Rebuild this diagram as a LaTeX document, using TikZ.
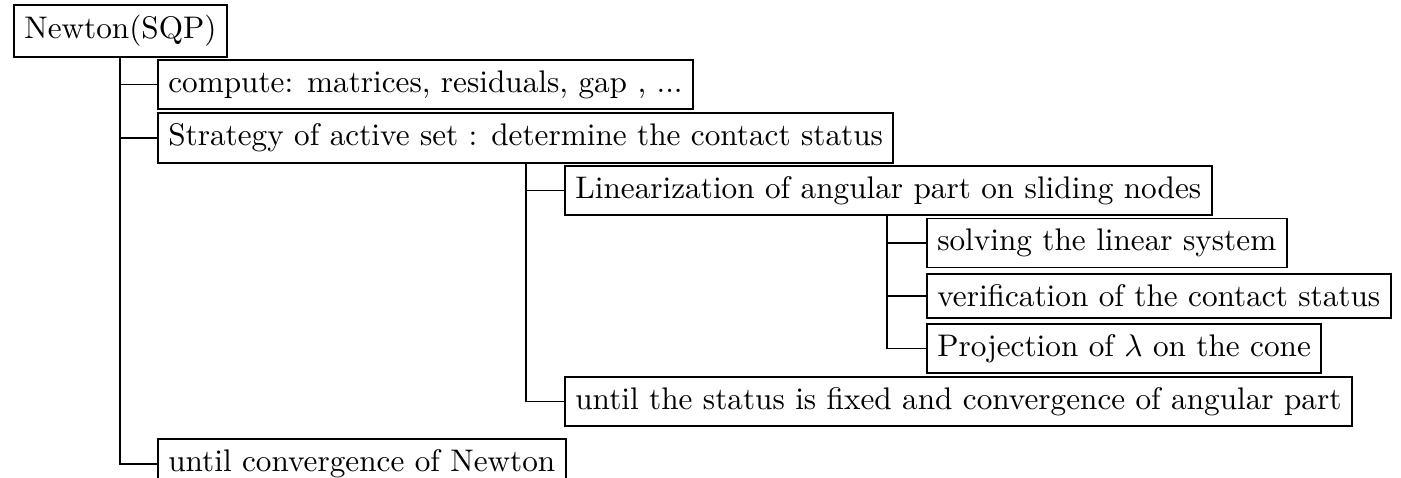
\documentclass[tikz,border=0pt]{standalone}
\usepackage{amsmath,amssymb}
\usepackage{tikz}
\usetikzlibrary{positioning}

\begin{document}
\begin{tikzpicture}[
  box/.style={draw,semithick,anchor=west},
  link/.style={thin}
]
  \useasboundingbox (0,0) rectangle (15.763,5.378);
  \node[box] (newton) at (0.146,5.029) {Newton(SQP)};
  \node[box] (compute) at (1.766,4.427) {compute: matrices, residuals, gap , ...};
  \node[box] (strategy) at (1.766,3.825) {Strategy of active set : determine the contact status};
  \node[box] (lin) at (6.346,3.235) {Linearization of angular part on sliding nodes};
  \node[box] (solve) at (10.418,2.644) {solving the linear system};
  \node[box] (verif) at (10.418,2.048) {verification of the contact status};
  \node[box] (proj) at (10.418,1.457) {Projection of $\lambda$ on the cone};
  \node[box] (untilstat) at (6.346,0.861) {until the status is fixed and convergence of angular part};
  \node[box] (untilnewton) at (1.766,0.158) {until convergence of Newton};

  % folder links
  \coordinate (r1) at ([xshift=1.204cm]newton.south west);
  \coordinate (r2) at ([xshift=4.152cm]strategy.south west);
  \coordinate (r3) at ([xshift=3.634cm]lin.south west);
  \draw[link] (r1) |- (compute.west);
  \draw[link] (r1) |- (strategy.west);
  \draw[link] (r1) |- (untilnewton.west);
  \draw[link] (r2) |- (lin.west);
  \draw[link] (r2) |- (untilstat.west);
  \draw[link] (r3) |- (solve.west);
  \draw[link] (r3) |- (verif.west);
  \draw[link] (r3) |- (proj.west);
\end{tikzpicture}
\end{document}
